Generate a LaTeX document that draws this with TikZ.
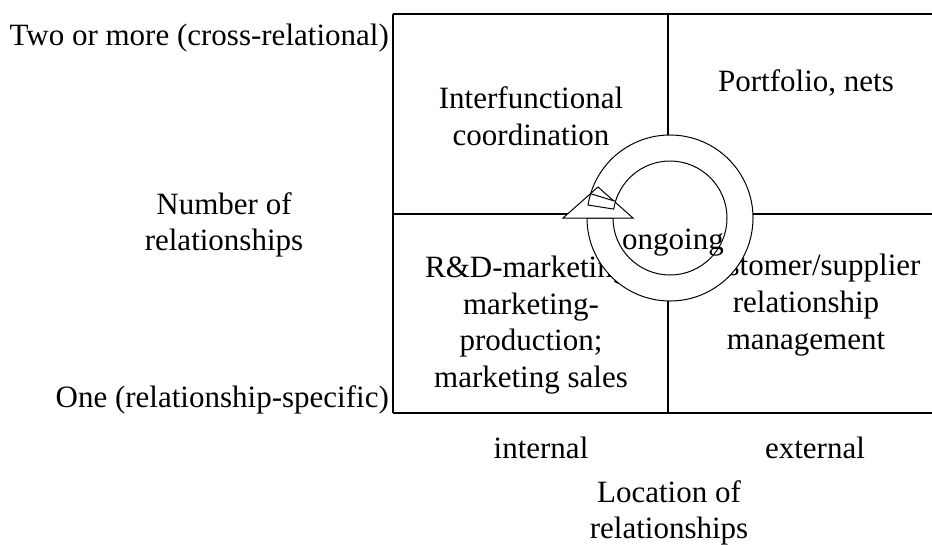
\documentclass[tikz,border=0pt]{standalone}
\usepackage{fontspec}
\setmainfont{Liberation Serif}
\begin{document}
\begin{tikzpicture}[x=1pt,y=1pt,
  lbl/.style={inner sep=0pt,align=center,font=\fontsize{31}{36.6}\selectfont},
  ring/.style={draw,line width=1pt,fill=white}]
\useasboundingbox (0,0) rectangle (932,-544);
% grid of the matrix
\draw[line width=1.6pt] (393,-14) -- (932,-14);
\draw[line width=1.6pt] (393,-214) -- (932,-214);
\draw[line width=1.6pt] (393,-413) -- (932,-413);
\draw[line width=1.6pt] (393,-14) -- (393,-413);
\draw[line width=1.6pt] (668,-14) -- (668,-413);

% axis labels
\node[lbl,anchor=base east] (more) at (389,-45) {Two or more (cross-relational)};
\node[lbl,anchor=base east] (one) at (389,-407) {One (relationship-specific)};
\node[lbl] (number) at (224,-225) {Number of\\relationships};
\node[lbl,anchor=base] (internal) at (541,-458) {internal};
\node[lbl,anchor=base] (external) at (815,-458) {external};
\node[lbl] (location) at (669,-513) {Location of\\relationships};

% cells
\node[lbl] (interf) at (531,-116) {Interfunctional\\coordination};
\node[lbl,anchor=base] (portf) at (806,-91) {Portfolio, nets};
\node[lbl] (rnd) at (531,-325) {R\&D-marketing;\\marketing-\\production;\\marketing sales};
\node[lbl] (cust) at (806,-305) {Customer/supplier\\relationship\\management};

% circular arrow
\coordinate (ctr) at (670,-218);
\fill[white] (ctr) circle[radius=83];
\draw[ring] ([shift={(171:83)}]ctr) arc[start angle=171,end angle=-180,radius=83]
  -- ([shift={(180:57)}]ctr) arc[start angle=-180,end angle=171,radius=57] -- cycle;
\draw[ring] (563,-218) -- (598,-187) -- (633,-218) -- cycle;
\draw[ring] ([shift={(171:83)}]ctr) arc[start angle=171,end angle=163,radius=83]
  -- ([shift={(163:57)}]ctr) arc[start angle=163,end angle=171,radius=57] -- cycle;
\node[lbl,anchor=base] (ongoing) at (673,-249) {ongoing};
\end{tikzpicture}
\end{document}
